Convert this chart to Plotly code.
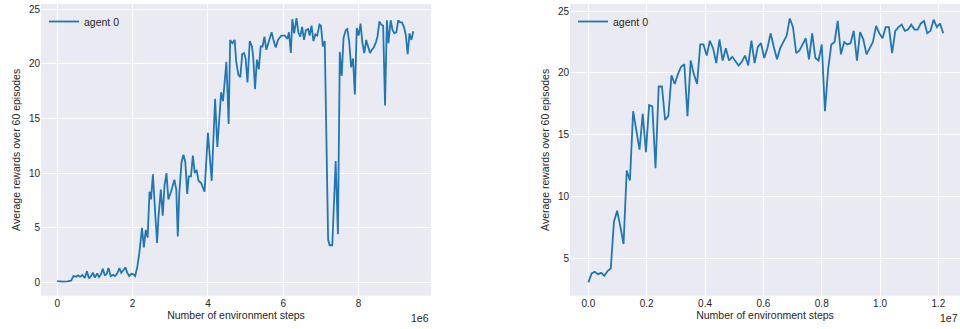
import plotly.graph_objects as go

# ---------------- data ----------------
# left panel: environment steps (millions) and average reward
left_steps_m = [
    0.00, 0.14, 0.27, 0.37, 0.43, 0.50, 0.55, 0.61, 0.67, 0.73, 0.79, 0.84, 0.90, 0.95, 1.00,
    1.06, 1.11, 1.16, 1.21, 1.26, 1.31, 1.36, 1.42, 1.48, 1.53, 1.59, 1.65, 1.70, 1.76, 1.81,
    1.86, 1.91, 1.97, 2.02, 2.07, 2.13, 2.18, 2.25, 2.30, 2.35, 2.40, 2.45, 2.49, 2.54, 2.60,
    2.65, 2.69, 2.75, 2.80, 2.85, 2.90, 2.95, 3.02, 3.11, 3.16, 3.20, 3.24, 3.30, 3.35, 3.40,
    3.45, 3.49, 3.55, 3.60, 3.65, 3.70, 3.75, 3.82, 3.91, 4.00, 4.10, 4.19, 4.25, 4.31, 4.35,
    4.40, 4.46, 4.49, 4.55, 4.59, 4.65, 4.71, 4.75, 4.81, 4.86, 4.91, 4.96, 5.00, 5.05, 5.11,
    5.17, 5.20, 5.25, 5.30, 5.35, 5.40, 5.45, 5.50, 5.55, 5.61, 5.69, 5.74, 5.80, 5.86, 5.95,
    6.04, 6.11, 6.15, 6.20, 6.24, 6.29, 6.35, 6.40, 6.45, 6.50, 6.55, 6.60, 6.66, 6.70, 6.75,
    6.80, 6.85, 6.90, 6.96, 7.00, 7.05, 7.10, 7.19, 7.23, 7.30, 7.39, 7.45, 7.50, 7.55, 7.60,
    7.66, 7.70, 7.75, 7.80, 7.85, 7.90, 7.95, 8.00, 8.05, 8.10, 8.15, 8.20, 8.25, 8.30, 8.35,
    8.40, 8.46, 8.50, 8.55, 8.60, 8.65, 8.70, 8.75, 8.79, 8.85, 8.90, 8.95, 9.00, 9.05, 9.10,
    9.15, 9.20, 9.25, 9.30, 9.35, 9.40, 9.45,
]
left_reward = [
    0.12, 0.06, 0.09, 0.15, 0.58, 0.52, 0.64, 0.52, 0.67, 0.40, 1.03, 0.37, 0.58, 0.88, 0.43,
    0.82, 0.49, 0.73, 1.25, 0.67, 0.73, 1.31, 0.58, 0.70, 0.58, 0.79, 1.31, 0.88, 1.13, 1.37,
    0.88, 0.58, 0.79, 0.73, 0.58, 1.49, 2.7, 5.0, 3.2, 4.8, 4.1, 8.3, 7.6, 9.9, 6.4,
    3.6, 6.1, 8.5, 6.1, 8.9, 10.0, 7.6, 8.3, 9.4, 8.5, 4.2, 8.2, 11.0, 11.7, 11.0,
    8.1, 9.7, 9.7, 11.6, 10.0, 10.3, 9.3, 9.1, 8.3, 13.7, 9.3, 16.8, 12.4, 15.8, 17.4,
    16.6, 19.4, 20.2, 14.5, 22.2, 21.9, 22.2, 20.2, 19.0, 18.8, 20.9, 21.0, 20.5, 18.3, 22.1,
    21.6, 20.7, 17.7, 20.4, 19.5, 21.6, 21.6, 22.5, 21.3, 21.9, 22.9, 22.2, 21.5, 22.2, 22.6,
    22.6, 22.3, 22.9, 21.0, 24.1, 22.8, 24.2, 22.9, 22.5, 23.4, 22.2, 23.1, 23.2, 22.6, 23.5,
    22.1, 22.7, 22.6, 23.6, 23.5, 21.6, 22.1, 3.9, 3.4, 3.4, 11.1, 4.4, 21.1, 18.9, 22.4,
    23.1, 23.2, 22.0, 19.7, 20.5, 17.2, 23.3, 22.6, 23.7, 21.9, 21.0, 22.2, 21.6, 21.0, 21.3,
    21.5, 22.0, 22.5, 23.9, 23.6, 23.5, 16.2, 24.0, 21.9, 24.0, 23.1, 22.8, 22.9, 24.0, 23.8,
    23.8, 23.4, 22.7, 20.9, 22.8, 22.2, 23.0,
]

# right panel: evenly spaced evaluation points
right_step_size = 0.1096e6
right_reward = [
    3.07, 3.79, 3.92, 3.73, 3.84, 3.60, 3.98, 4.19, 7.97, 8.86, 7.57, 6.17, 12.1, 11.3, 16.9,
    15.2, 13.8, 16.7, 13.6, 17.4, 17.3, 12.3, 18.9, 18.9, 16.2, 16.5, 19.8, 19.1, 19.9, 20.5,
    20.7, 16.5, 21.0, 19.9, 19.1, 22.3, 22.3, 21.4, 22.6, 22.0, 20.8, 22.7, 21.0, 22.0, 21.0,
    21.3, 20.9, 20.6, 20.9, 21.4, 20.6, 22.6, 20.8, 22.1, 22.4, 21.2, 22.0, 23.2, 22.1, 21.1,
    22.0, 22.5, 23.0, 24.4, 23.7, 21.6, 21.8, 22.3, 22.8, 21.1, 23.2, 21.2, 21.0, 22.3, 16.9,
    20.3, 22.3, 22.5, 24.2, 21.5, 22.5, 22.3, 22.4, 23.4, 21.0, 23.3, 22.7, 21.5, 22.0, 22.5,
    23.8, 23.2, 22.8, 23.7, 23.7, 21.6, 23.4, 23.7, 23.9, 23.4, 23.5, 23.9, 23.5, 23.5, 24.0,
    24.2, 23.2, 23.4, 24.3, 23.7, 24.0, 23.2,
]

series_name = "agent 0"
x_title = "Number of environment steps"
y_title = "Average rewards over 60 episodes"
left_xticks = [0, 2e6, 4e6, 6e6, 8e6]
left_xtick_text = ["0", "2", "4", "6", "8"]
right_xticks = [0, 0.2e7, 0.4e7, 0.6e7, 0.8e7, 1.0e7, 1.2e7]
right_xtick_text = ["0.0", "0.2", "0.4", "0.6", "0.8", "1.0", "1.2"]
left_yticks = [0, 5, 10, 15, 20, 25]
right_yticks = [5, 10, 15, 20, 25]

# ---------------- figure ----------------
W, H = 960, 329
LINE = "#1f77b4"
TXT = "#262626"
FONT = "Liberation Sans, Arial, sans-serif"

left_steps = [s * 1e6 for s in left_steps_m]
right_steps = [i * right_step_size for i in range(len(right_reward))]

fig = go.Figure()
fig.add_trace(go.Scatter(x=left_steps, y=left_reward, mode="lines", name=series_name,
                         line=dict(color=LINE, width=1.8), xaxis="x", yaxis="y",
                         legend="legend", showlegend=True))
fig.add_trace(go.Scatter(x=right_steps, y=right_reward, mode="lines", name=series_name,
                         line=dict(color=LINE, width=1.8), xaxis="x2", yaxis="y2",
                         legend="legend2", showlegend=True))

ydom = [1 - 295.7 / H, 1 - 4 / H]
common_axis = dict(showline=False, zeroline=False, gridcolor="white", gridwidth=1.2,
                   ticks="", tickfont=dict(size=10, color=TXT, family=FONT),
                   automargin=False)
title_font = dict(size=10.5, color=TXT, family=FONT)
legend_font = dict(size=10.5, color=TXT, family=FONT)

fig.update_layout(
    width=W, height=H,
    margin=dict(l=0, r=0, t=0, b=0),
    paper_bgcolor="white",
    plot_bgcolor="#EAEAF2",
    showlegend=True,
    font=dict(family=FONT, color=TXT),
    xaxis=dict(domain=[41 / W, 431 / W], range=[-0.43e6, 9.92e6],
               tickvals=left_xticks, ticktext=left_xtick_text,
               title=dict(text=x_title, font=title_font, standoff=3),
               anchor="y", **common_axis),
    yaxis=dict(domain=ydom, range=[-1.22, 25.49], tickvals=left_yticks,
               title=dict(text=y_title, font=title_font, standoff=6),
               anchor="x", **common_axis),
    xaxis2=dict(domain=[570 / W, 1.0], range=[-0.63e6, 12.74e6],
                tickvals=right_xticks, ticktext=right_xtick_text,
                title=dict(text=x_title, font=title_font, standoff=3),
                anchor="y2", **common_axis),
    yaxis2=dict(domain=ydom, range=[1.99, 25.57], tickvals=right_yticks,
                title=dict(text=y_title, font=title_font, standoff=6),
                anchor="x2", **common_axis),
    legend=dict(x=44 / W, y=1 - 7 / H, xanchor="left", yanchor="top",
                bgcolor="rgba(0,0,0,0)", font=legend_font),
    legend2=dict(x=573 / W, y=1 - 7 / H, xanchor="left", yanchor="top",
                 bgcolor="rgba(0,0,0,0)", font=legend_font),
    annotations=[
        dict(text="1e6", xref="paper", yref="paper", x=431 / W, y=1 - 318 / H,
             xanchor="right", yanchor="middle", showarrow=False,
             font=dict(size=10.5, color=TXT, family=FONT)),
        dict(text="1e7", xref="paper", yref="paper", x=1.0, y=1 - 318 / H,
             xanchor="right", yanchor="middle", showarrow=False,
             font=dict(size=10.5, color=TXT, family=FONT)),
    ],
)

fig.write_html("out.html",
               config={"displayModeBar": False},
               post_script="document.body.style.margin='0';document.body.style.overflow='hidden';")
